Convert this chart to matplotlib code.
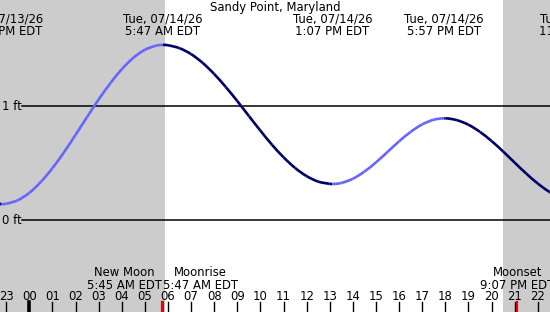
import matplotlib
matplotlib.use("Agg")
import matplotlib.pyplot as plt
from matplotlib.path import Path
from matplotlib.patches import PathPatch
from matplotlib.transforms import blended_transform_factory

station = "Sandy Point, Maryland"

# hours since midnight 07/14/26 and predicted tide height (ft)
hours = [-1.5, -1.2, -1.0, -0.5, 0.0, 0.5, 1.0, 1.5, 2.0, 2.5, 3.0, 3.5, 4.0,
         4.5, 5.0, 5.5, 5.783, 6.0, 6.5, 7.0, 7.5, 8.0, 8.5, 9.0, 9.5, 10.0,
         10.5, 11.0, 11.5, 12.0, 12.5, 13.0, 13.117, 13.5, 14.0, 14.5, 15.0,
         15.5, 16.0, 16.5, 17.0, 17.5, 17.95, 18.0, 18.5, 19.0, 19.5, 20.0,
         20.5, 21.0, 21.5, 22.0, 22.5, 23.0]
height_ft = [0.145, 0.14, 0.143, 0.174, 0.239, 0.335, 0.456, 0.596, 0.749,
             0.906, 1.060, 1.201, 1.326, 1.426, 1.497, 1.534, 1.54, 1.537,
             1.511, 1.459, 1.382, 1.284, 1.170, 1.046, 0.915, 0.786, 0.662,
             0.552, 0.458, 0.386, 0.338, 0.318, 0.317, 0.326, 0.363, 0.426,
             0.507, 0.599, 0.692, 0.775, 0.841, 0.882, 0.894, 0.894, 0.878,
             0.838, 0.775, 0.695, 0.603, 0.505, 0.409, 0.321, 0.248, 0.195]

extreme_hours = [-1.2, 5.783, 13.117, 17.95, 23.8]
extreme_labels = ["Mon, 07/13/26\n10:48 PM EDT", "Tue, 07/14/26\n5:47 AM EDT",
                  "Tue, 07/14/26\n1:07 PM EDT", "Tue, 07/14/26\n5:57 PM EDT",
                  "Tue, 07/14/26\n11:48 PM EDT"]

hour_ticks = list(range(-1, 23))
hour_labels = ["23"] + ["%02d" % h for h in range(0, 23)]

night_spans = [(-3.0, 5.87), (20.5, 25.0)]

moon_hours = [5.75, 5.783, 21.117]
moon_labels = ["New Moon\n5:45 AM EDT", "Moonrise\n5:47 AM EDT",
               "Moonset\n9:07 PM EDT"]

grid_ft = [1, 0]
grid_labels = ["1 ft", "0 ft"]

H = 312.0


def py(p):
    # pixel row from top -> axes fraction
    return 1 - p / H


def slopes(t, y):
    n = len(t)
    m = []
    for i in range(n):
        if i == 0:
            m.append((y[1] - y[0]) / (t[1] - t[0]))
        elif i == n - 1:
            m.append((y[-1] - y[-2]) / (t[-1] - t[-2]))
        elif (y[i] - y[i - 1]) * (y[i + 1] - y[i]) <= 0:
            m.append(0.0)  # high / low water: flat tangent
        else:
            m.append((y[i + 1] - y[i - 1]) / (t[i + 1] - t[i - 1]))
    return m


fig = plt.figure(figsize=(5.5, 3.12), dpi=100)
ax = fig.add_axes([0, 0, 1, 1])
ax.set_xlim(-1.268, 22.53)
ax.set_ylim(-0.809, 1.935)
ax.axis("off")
trans = blended_transform_factory(ax.transData, ax.transAxes)
font = dict(family="DejaVu Sans", fontsize=8.4, color="black")

for a, b in night_spans:
    ax.axvspan(a, b, color="#cccccc", lw=0, zorder=0)

for ft, lab in zip(grid_ft, grid_labels):
    ax.axhline(ft, xmin=22 / 550, xmax=1, color="black", lw=1.1, zorder=1)
    ax.text(-1.2, ft, lab, ha="left", va="center", **font)

# smooth curve, light blue while rising, dark navy while falling
m = slopes(hours, height_ft)
for i in range(len(hours) - 1):
    t0, t1 = hours[i], hours[i + 1]
    y0, y1 = height_ft[i], height_ft[i + 1]
    d = (t1 - t0) / 3
    verts = [(t0, y0), (t0 + d, y0 + m[i] * d), (t1 - d, y1 - m[i + 1] * d), (t1, y1)]
    path = Path(verts, [Path.MOVETO, Path.CURVE4, Path.CURVE4, Path.CURVE4])
    ax.add_patch(PathPatch(path, fill=False, lw=1.9, capstyle="butt",
                           edgecolor="#6666ff" if y1 > y0 else "#000066", zorder=3))

ax.text(0.5, py(8), station, ha="center", va="center", transform=ax.transAxes, **font)
for h, lab in zip(extreme_hours, extreme_labels):
    ax.text(h, py(25), lab, ha="center", va="center", linespacing=0.95,
            transform=trans, **font)

for h, lab in zip(hour_ticks, hour_labels):
    ax.text(h, py(297), lab, ha="center", va="center", transform=trans, **font)
    ax.plot([h, h], [py(302), py(312)], color="black",
            lw=2.6 if h == 0 else 1.0, transform=trans, zorder=4)

for h in moon_hours:
    ax.plot([h, h], [py(302), py(312)], color="#ee0000", lw=1.6,
            transform=trans, zorder=5)

aligns = ["right", "left", "center"]
for h, lab, al in zip(moon_hours, moon_labels, aligns):
    ax.text(h, py(279), lab, ha=al, va="center", multialignment="center",
            linespacing=0.95, transform=trans, **font)

fig.savefig("out.png", dpi=100)
